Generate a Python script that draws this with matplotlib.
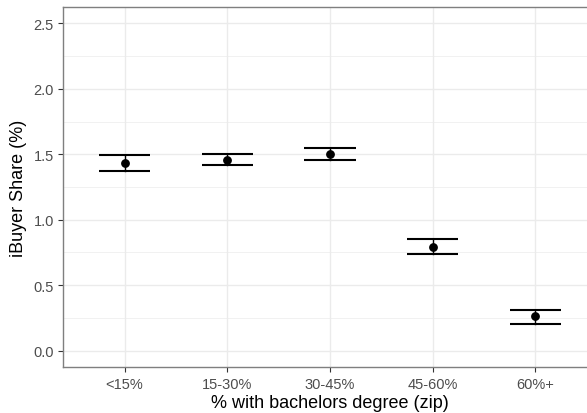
import matplotlib

matplotlib.use("Agg")

import matplotlib.pyplot as plt  # noqa: E402

plt.rcParams["font.family"] = ["Liberation Sans", "DejaVu Sans"]

CATEGORIES = ["<15%", "15-30%", "30-45%", "45-60%", "60%+"]
SHARE = [1.433, 1.453, 1.504, 0.793, 0.262]
LOWER = [1.376, 1.415, 1.458, 0.737, 0.206]
UPPER = [1.491, 1.499, 1.547, 0.849, 0.313]
Y_TICKS = [0.0, 0.5, 1.0, 1.5, 2.0, 2.5]
Y_MINOR = [0.25, 0.75, 1.25, 1.75, 2.25]

W, H = 587, 414
DPI = 100

fig = plt.figure(figsize=(W / DPI, H / DPI), dpi=DPI)
# panel runs past the right edge, as in the reference crop
ax = fig.add_axes([63 / W, (H - 368) / H, 534 / W, 360 / H])

x = list(range(1, len(CATEGORIES) + 1))
cap_half = 0.25
for xi, lo, hi in zip(x, LOWER, UPPER):
    ax.plot([xi, xi], [lo, hi], color="black", linewidth=1.0, zorder=3)
    ax.plot([xi - cap_half, xi + cap_half], [hi, hi], color="black", linewidth=1.5,
            solid_capstyle="butt", zorder=3)
    ax.plot([xi - cap_half, xi + cap_half], [lo, lo], color="black", linewidth=1.5,
            solid_capstyle="butt", zorder=3)
ax.plot(x, SHARE, "o", color="black", markersize=5.3, zorder=4)

ax.set_xlim(0.4, 5.6)
ax.set_ylim(-0.125, 2.625)
ax.set_xticks(x)
ax.set_xticklabels(CATEGORIES)
ax.set_yticks(Y_TICKS)
ax.set_yticklabels([f"{v:.1f}" for v in Y_TICKS])
ax.set_yticks(Y_MINOR, minor=True)

ax.grid(which="major", color="#ebebeb", linewidth=1.0)
ax.grid(which="minor", axis="y", color="#ebebeb", linewidth=0.5)
ax.set_axisbelow(True)

for side in ax.spines.values():
    side.set_color("#7f7f7f")
    side.set_linewidth(1.0)

ax.tick_params(which="major", color="#333333", length=3.5, width=0.8,
               labelsize=10.5, labelcolor="#4d4d4d", pad=3)
ax.tick_params(axis="x", pad=4)
ax.tick_params(which="minor", length=0)

ax.set_xlabel("% with bachelors degree (zip)", fontsize=13, labelpad=2)
ax.set_ylabel("iBuyer Share (%)", fontsize=13, labelpad=5)

fig.savefig("out.png", dpi=DPI)
plt.close(fig)
